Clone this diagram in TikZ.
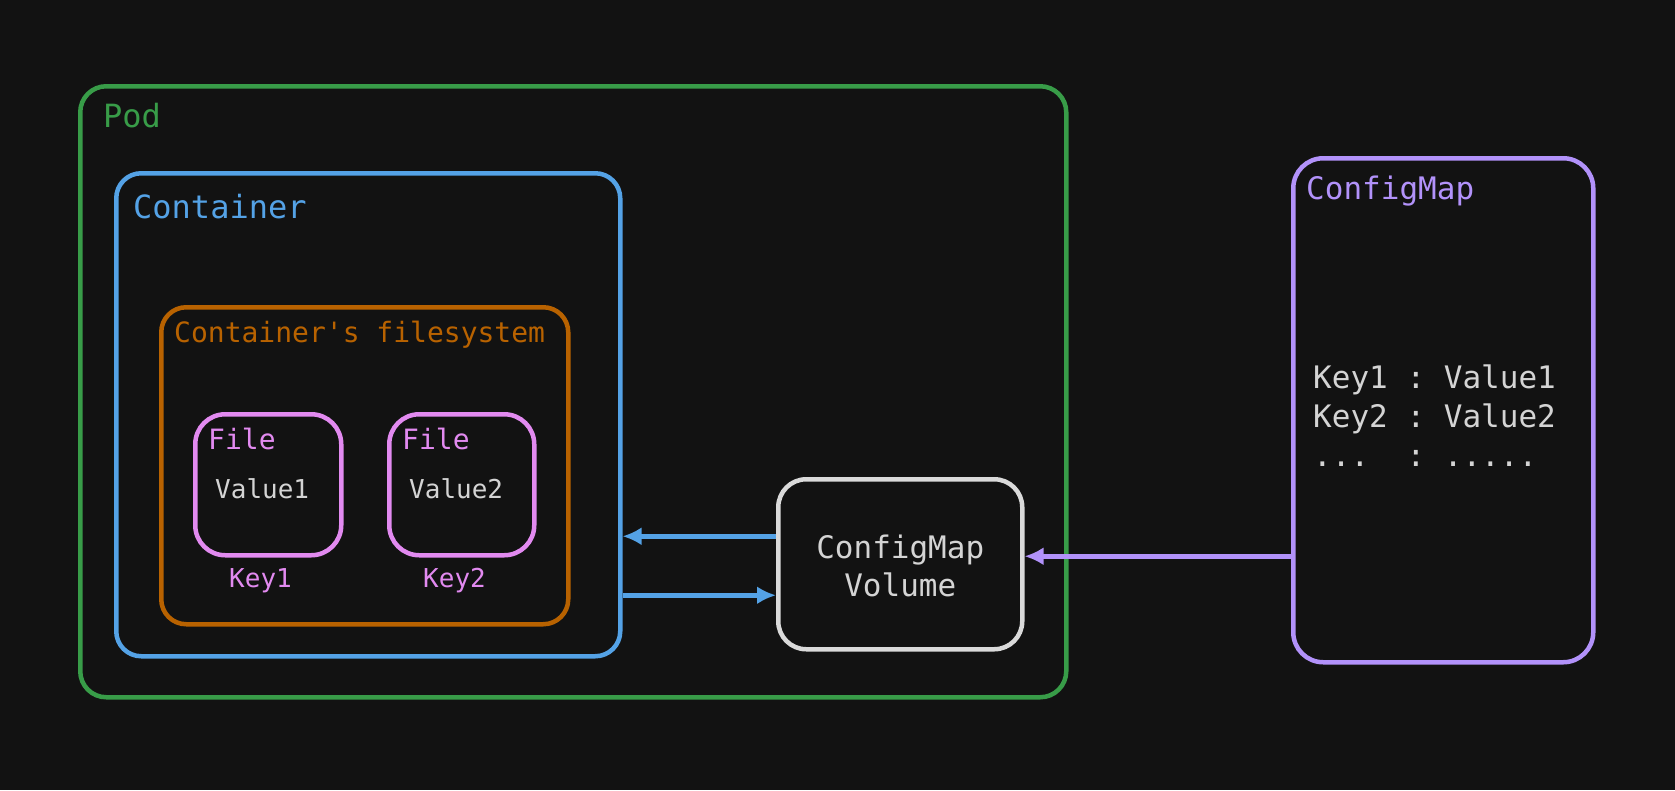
\documentclass[tikz,border=0pt]{standalone}
\usepackage{fontspec}
\setmonofont{DejaVu Sans Mono}
\usetikzlibrary{arrows.meta}

\begin{document}
\begin{tikzpicture}[x=1pt, y=-1pt, >=Latex]
      % Define colors
      \definecolor{bgdark}{RGB}{18,18,18}
      \definecolor{podgreen}{RGB}{56,156,72}
      \definecolor{ctrblue}{RGB}{84,162,230}
      \definecolor{fsorange}{RGB}{184,98,0}
      \definecolor{filepink}{RGB}{226,138,240}
      \definecolor{cmpurple}{RGB}{178,146,250}
      \definecolor{volgrey}{RGB}{218,218,218}
      \definecolor{txtgrey}{RGB}{212,212,212}

      \tikzset{
        box/.style={draw, line width=4.5pt, rounded corners=26pt, anchor=north west, inner sep=0pt},
        lbl/.style={anchor=base west, inner sep=0pt},
        big/.style={font=\ttfamily\fontsize{32}{38}\selectfont},
        mid/.style={font=\ttfamily\fontsize{28}{34}\selectfont},
        small/.style={font=\ttfamily\fontsize{26}{32}\selectfont},
        link/.style={line width=5pt, -{Latex[length=19pt,width=18pt]}}
      }

      % Background
      \fill[bgdark] (0,0) rectangle (1675,790);
      \useasboundingbox (0,0) rectangle (1675,790);

      % Pod
      \node[box, podgreen, minimum width=986pt, minimum height=611pt] (pod) at (78,84) {};
      \node[lbl, big, podgreen] (podlbl) at (103,127) {Pod};

      % Container
      \node[box, ctrblue, minimum width=504pt, minimum height=483pt, rounded corners=25pt] (container) at (114,171) {};
      \node[lbl, big, ctrblue] (ctrlbl) at (133,218) {Container};

      % Container's filesystem
      \node[box, fsorange, minimum width=407pt, minimum height=317pt, rounded corners=25pt] (fs) at (159,305) {};
      \node[lbl, mid, fsorange] (fslbl) at (174,342) {Container's filesystem};

      % Files
      \node[box, filepink, minimum width=146pt, minimum height=141pt, rounded corners=30pt] (file1) at (193,412) {};
      \node[lbl, mid, filepink] (file1lbl) at (208,449) {File};
      \node[lbl, small, txtgrey] (val1) at (215,498) {Value1};
      \node[lbl, small, filepink] (key1) at (229,587) {Key1};

      \node[box, filepink, minimum width=145pt, minimum height=141pt, rounded corners=30pt] (file2) at (387,412) {};
      \node[lbl, mid, filepink] (file2lbl) at (402,449) {File};
      \node[lbl, small, txtgrey] (val2) at (409,498) {Value2};
      \node[lbl, small, filepink] (key2) at (423,587) {Key2};

      % ConfigMap Volume
      \node[box, volgrey, minimum width=244pt, minimum height=170pt, rounded corners=28pt] (volume) at (776,477) {};
      \node[txtgrey, align=center, inner sep=0pt, font=\ttfamily\fontsize{31}{38}\selectfont] (vollbl) at ([yshift=-2pt]volume.center) {ConfigMap\\Volume};

      % ConfigMap
      \node[box, cmpurple, minimum width=300pt, minimum height=504pt, rounded corners=30pt] (cmap) at (1291,156) {};
      \node[lbl, cmpurple, font=\ttfamily\fontsize{31}{38}\selectfont] (cmaplbl) at (1306,199) {ConfigMap};
      \node[lbl, txtgrey, align=left, font=\ttfamily\fontsize{31}{39}\selectfont] (cmapdata) at (1313,466)
        {Key1~:~Value1\\Key2~:~Value2\\...~~:~.....};

      % Arrows
      \coordinate (volout) at ([yshift=28pt]volume.west);
      \coordinate (volin) at ([yshift=-31pt]volume.west);
      \coordinate (cmin) at ([yshift=8pt]volume.east);
      \draw[link, ctrblue] (volout) -- (volout -| container.east);
      \draw[link, ctrblue] (volin -| container.east) -- (volin);
      \draw[link, cmpurple] (cmin -| cmap.west) -- (cmin);

    \end{tikzpicture}
\end{document}
